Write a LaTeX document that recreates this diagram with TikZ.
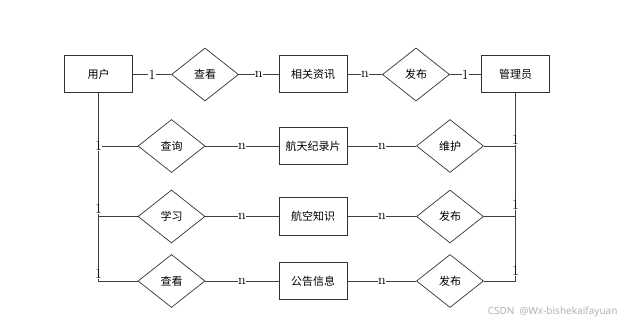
\documentclass[tikz,border=0pt]{standalone}
\usepackage{fontspec}
\newfontfamily\cjk{Noto Sans CJK SC}
\newfontfamily\wmfont{Noto Sans}
\usetikzlibrary{shapes.geometric}

\begin{document}
\begin{tikzpicture}[x=1pt, y=-1pt,
    entity/.style={draw=black!80, line width=1pt, minimum width=68pt, minimum height=37pt, inner sep=1pt, font=\cjk\fontsize{11}{13}\selectfont},
    relation/.style={draw=black!80, line width=0.7pt, diamond, minimum width=67pt, minimum height=53pt, inner sep=0pt, font=\cjk\fontsize{11}{13}\selectfont},
    card/.style={fill=white, inner sep=0.3pt, font=\fontsize{14}{15}\selectfont},
    link/.style={draw=black!75, line width=0.9pt}]
    \useasboundingbox (0,0) rectangle (627,326);

    % entities
    \node[entity] (user) at (98.5,74.5) {用户};
    \node[entity] (info) at (313,74.5) {相关资讯};
    \node[entity] (admin) at (515.5,74.5) {管理员};
    \node[entity] (film) at (313,146) {航天纪录片};
    \node[entity] (know) at (313,216.5) {航空知识};
    \node[entity] (notice) at (313,281) {公告信息};

    % relations
    \node[relation] (view1) at (205,74.5) {查看};
    \node[relation] (pub1) at (416,74.5) {发布};
    \node[relation] (query) at (171.5,146) {查询};
    \node[relation] (maint) at (450,146) {维护};
    \node[relation] (study) at (171.5,216.5) {学习};
    \node[relation] (pub2) at (450,216.5) {发布};
    \node[relation] (view2) at (171.5,281) {查看};
    \node[relation] (pub3) at (450,281) {发布};

    % top row
    \path[link] (user) -- node[card] {1} (view1);
    \path[link] (view1) -- node[card] {n} (info);
    \path[link] (info) -- node[card] {n} (pub1);
    \path[link] (pub1) -- node[card] {1} (admin);

    % user side, lowest row first so the labels stay on top
    \path[link] (user.south) |- node[card, pos=0.5, anchor=south, yshift=2pt] {1} (view2.west);
    \path[link] (user.south) |- node[card, pos=0.5, anchor=south, yshift=2pt] {1} (study.west);
    \path[link] (user.south) |- node[card, pos=0.5] {1} (query.west);
    \path[link] (view2) -- node[card] {n} (notice);
    \path[link] (study) -- node[card] {n} (know);
    \path[link] (query) -- node[card] {n} (film);

    % admin side
    \path[link] (admin.south) |- node[card, pos=0.5, anchor=south, yshift=5pt] {1} (pub3.east);
    \path[link] (admin.south) |- node[card, pos=0.5, anchor=south, yshift=6pt] {1} (pub2.east);
    \path[link] (admin.south) |- node[card, pos=0.5, yshift=6pt] {1} (maint.east);
    \path[link] (notice) -- node[card] {n} (pub3);
    \path[link] (know) -- node[card] {n} (pub2);
    \path[link] (film) -- node[card] {n} (maint);

    \node[text=black!30, font=\wmfont\fontsize{10}{11}\selectfont, anchor=east] (mark) at (621,312) {CSDN\ \ @Wx-bishekaifayuan};
\end{tikzpicture}
\end{document}
